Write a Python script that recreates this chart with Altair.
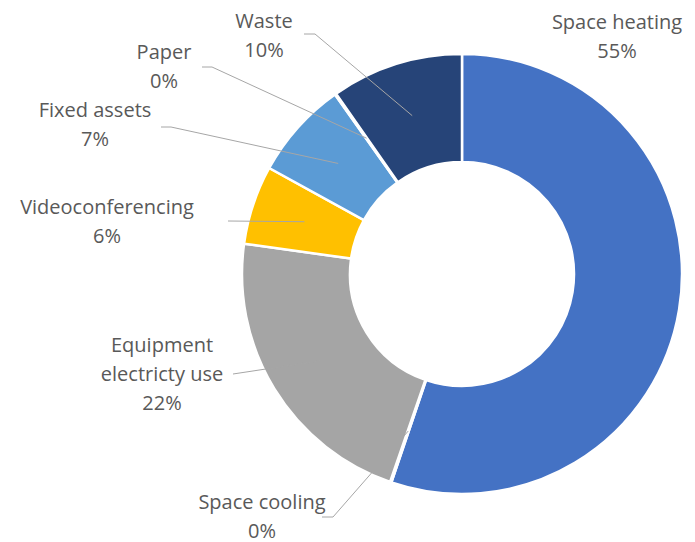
import altair as alt
import pandas as pd

# ---- data ----
categories = ["Space heating", "Space cooling", "Equipment electricty use",
              "Videoconferencing", "Fixed assets", "Paper", "Waste"]
values = [55.2, 0.1, 21.9, 5.8, 7.2, 0.1, 9.7]
colors = ["#4472C4", "#ED7D31", "#A5A5A5", "#FFC000", "#5B9BD5", "#70AD47", "#264478"]

# ---- layout (page pixels) ----
W, H = 679, 532
OFF = 8
CX, CY = 462 - OFF, 274 - OFF
R_OUT, R_IN = 220, 112
R_MID = (R_OUT + R_IN) / 2

label_x = [617, 262, 162, 107, 95, 164, 264]
label_y = [23, 503, 346, 208, 111, 53, 22]
lead_sx = [None, 322, 233, 228, 161, 202, 304]
lead_sy = [None, 517, 374, 221, 127, 67, 34]
lead_kx = [None, 333, 233, 228, 171, 212, 315]
lead_ky = [None, 517, 374, 221, 127, 67, 34]


def sh(v):
    return None if v is None else v - OFF


df = pd.DataFrame({
    "category": categories,
    "value": values,
    "order": list(range(len(categories))),
    "tx": [sh(v) for v in label_x],
    "ty": [sh(v) for v in label_y],
    "sx": [sh(v) for v in lead_sx],
    "sy": [sh(v) for v in lead_sy],
    "kx": [sh(v) for v in lead_kx],
    "ky": [sh(v) for v in lead_ky],
})

xs = alt.Scale(domain=[0, W], range=[0, W])
ys = alt.Scale(domain=[0, H], range=[0, H])

base = alt.Chart(df)

arcs = base.mark_arc(radius=R_OUT, radius2=R_IN, stroke="white", strokeWidth=2.5).encode(
    theta=alt.Theta("value:Q", stack=True),
    order=alt.Order("order:Q"),
    color=alt.Color("category:N", scale=alt.Scale(domain=categories, range=colors), legend=None),
    x=alt.value(CX),
    y=alt.value(CY),
)

leaders = base.transform_joinaggregate(
    total="sum(value)"
).transform_window(
    cum="sum(value)", sort=[alt.SortField("order")], frame=[None, 0]
).transform_calculate(
    mid="(datum.cum - datum.value/2)/datum.total*2*PI"
).transform_calculate(
    ex=f"{CX} + {R_MID}*sin(datum.mid)",
    ey=f"{CY} - {R_MID}*cos(datum.mid)",
).transform_filter("isValid(datum.sx)")

LC = "#A6A6A6"
seg1 = leaders.mark_rule(color=LC, strokeWidth=1).encode(
    x=alt.X("sx:Q", scale=xs, axis=None),
    y=alt.Y("sy:Q", scale=ys, axis=None),
    x2="kx:Q", y2="ky:Q",
)
seg2 = leaders.mark_rule(color=LC, strokeWidth=1).encode(
    x=alt.X("kx:Q", scale=xs, axis=None),
    y=alt.Y("ky:Q", scale=ys, axis=None),
    x2="ex:Q", y2="ey:Q",
)

labels = base.transform_joinaggregate(
    total="sum(value)"
).transform_calculate(
    txt="replace(datum.category, 'Equipment ', 'Equipment\\n') + '\\n' + format(datum.value/datum.total, '.0%')"
).mark_text(
    align="center", baseline="middle", lineBreak="\n", lineHeight=29,
    font="Open Sans", fontSize=20, color="#595959",
).encode(
    x=alt.X("tx:Q", scale=xs, axis=None),
    y=alt.Y("ty:Q", scale=ys, axis=None),
    text="txt:N",
)

chart = alt.layer(arcs, seg1, seg2, labels).properties(
    width=W, height=H, padding=0, autosize="none"
).configure_view(stroke=None)

chart.save("out.html", embed_options={"renderer": "svg", "actions": False})
